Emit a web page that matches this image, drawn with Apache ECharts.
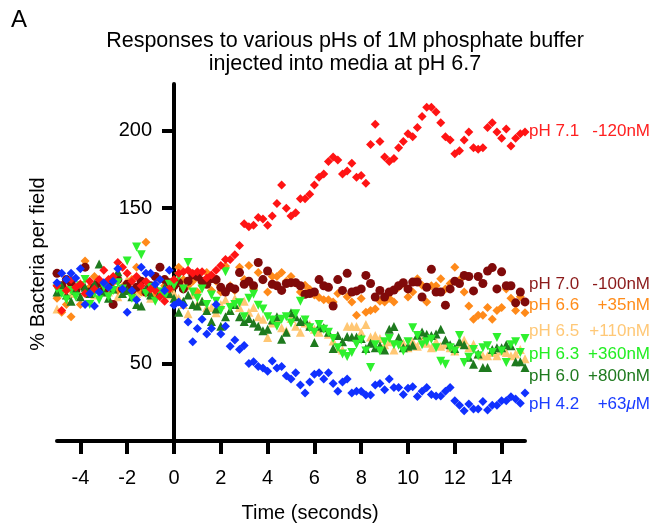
<!DOCTYPE html>
<html>
<head>
<meta charset="utf-8">
<script src="https://cdn.jsdelivr.net/npm/echarts@6/dist/echarts.min.js"></script>
<style>html,body{margin:0;padding:0;background:#fff}#c{width:653px;height:527px}</style>
</head>
<body>
<div id="c"></div>
<script>
// Time points (seconds)
var times = [-5,-4.8,-4.6,-4.4,-4.2,-4,-3.8,-3.6,-3.4,-3.2,-3,-2.8,-2.6,-2.4,-2.2,-2,-1.8,-1.6,-1.4,-1.2,-1,-0.8,-0.6,-0.4,-0.2,
  0,0.2,0.4,0.6,0.8,1,1.2,1.4,1.6,1.8,2,2.2,2.4,2.6,2.8,3,3.2,3.4,3.6,3.8,4,4.2,4.4,4.6,4.8,5,5.2,5.4,5.6,5.8,
  6,6.2,6.4,6.6,6.8,7,7.2,7.4,7.6,7.8,8,8.2,8.4,8.6,8.8,9,9.2,9.4,9.6,9.8,10,10.2,10.4,10.6,10.8,11,11.2,11.4,11.6,11.8,
  12,12.2,12.4,12.6,12.8,13,13.2,13.4,13.6,13.8,14,14.2,14.4,14.6,14.8,15];

var pH71 = [100,84,97,104,99,101,95,103,98,104,110,104,106,115,112,108,103,106,100,103,98,97,93,90,98,
  104,108,109,110,108,109,109,105,107,110,
  113,117,117,120,126,140,138,139,144,143,
  139,145,153,165,150,145,147,156,156,159,
  165,170,172,180,183,181,172,174,179,170,
  171,166,191,204,193,183,180,182,189,193,
  198,196,202,209,215,215,212,205,196,194,
  185,187,194,199,189,188,189,202,205,199,
  195,201,190,195,198,199];

var pH70 = [108,100,104,102,97,100,112,96,99,102,97,100,88,104,98,101,97,99,103,96,100,106,112,104,102,
  100,102,98,103,107,106,103,101,104.6,104,
  99,96,99,98,108.5,101,103,100,115,104,
  109.5,101,100,97,101.5,102,102,100,94.5,95,
  96,104,100,99,87,104,97,108,96,96.7,
  98,106.7,101.5,92.8,97,92.8,96,97.3,100,102,
  98,102.4,102.4,92.8,99,110.6,96,96,87.5,98,
  103,101.5,106.7,106,96.7,106,101.5,109.5,111.7,98,
  109,100,100,89,96,89.6];

var pH66 = [92,83,88,80,95,88,116,99,106,98,100,95,102,97,99,101,104,112,96,128,99,94,104,100,97,
  100,112,104,100,103,96,100,108.5,97,103,
  96,112.7,100,97,112,104,113,98,108.5,103.7,
  96,106,106,108.5,103,106,102,96,100.3,97.7,
  94,92.4,91,91,89.6,95,96.7,93,89.6,81,
  91.8,83,84,85,90,89.6,92,89.6,99,101.6,
  92.8,96,104.6,100.3,89.6,100,100,104.6,98,101.5,
  112,103.7,96,87,78.5,81,81,86,78.5,84,
  86,98,92,84,93,82.7];

var pH65 = [85,97,100,95,98,102,96,100,94,99,101,96,98,93,100,104,97,95,99,96,92,98,95,100,94,
  95,92,88,82,94.5,88,90,86,86,82.7,
  88,91,84,91.8,86,90,83,86,80,78.5,
  66.7,76,79.5,73,71,79,74,70,76,75,
  72,70,73,68.8,64.5,59.6,58.7,74,74,73.7,
  70,75,67,68,66,62,64,58.7,66,63,
  60,64,61,65,63,60,64,61,62.4,60,
  58,63,65,60,62.4,56,55,55,57,55,
  58,57,55,56,59,53];

var pH63 = [98,95,91,97,93,100,104,88,95,91,99,93,97,102,98,116,92,125,120,95,99,90,96,93,101,
  100,106,98,115,96,92,98,88,94,90,
  84,109,86,88,89,80,92,94.5,87.5,85,
  80,78,74,78.5,80,76,82,90,78,73,
  70,75,72,70,66,60,56,54.5,57,62.4,
  65,58,47.4,62,58,64,66,62,61.7,58,
  64,73,68,62,64,65.6,60,51.4,49.5,60,
  58,68,50.6,54,59,55,60,61.3,57,66.7,
  58,50.6,62,64,57,66];

var pH60 = [96,100,94,90,97,93,99,95,101,114,96,92,98,109,95,97,93,88,87,98,94,100,96,99,95,
  92,83,90,94,88,87,90,84,77,85,
  74,80,84,88,80,77,79,76,74,71,
  72,78,80,65.6,70,82.7,80,77,78,74,
  63.5,74,73,70,59.6,68,64,67.3,67,67,
  66,59.6,63,60,61.3,58.7,72,73.7,66.7,60,
  61,61.7,68.2,70.3,68.8,68,69,72,65,62,
  59.6,64,62,54,49.5,56,47.4,47.4,59,60,
  60,62,61.3,51,51,47.4];

var pH42 = [102,108,104,108,105,111,88,95,87,96,102,99,103,111,98,83,97,91,112,108,108,101,104,97,110,
  87.5,89.6,87.5,76.7,64,72.5,78.5,69,72.5,88,
  69,74,61,65,59,61.5,50,51,48,47,
  45,51.5,47,48,42,40,44,36,31,38,
  43,44,40,44,37,32,38,40,31,32,
  32,29.6,29.6,36,37,33,40,34.5,34.5,30,
  34,35,28.7,32,34.5,30,29,29,32,34.5,
  26,23,19.5,23.8,20.6,20.6,25.5,20,23,23,
  26,26,28.5,27,24.4,31];

var xTicks = [-4,-2,0,2,4,6,8,10,12,14];
var yTicks = [50,150,200];

var FONT = "'Liberation Sans', Arial, Helvetica, sans-serif";

function pts(vals){ return times.map(function(t,i){ return [t, vals[i]]; }); }

var seriesDefs = [
  {name:'pH 6.5', data:pH65, color:'#FFC774', symbol:'triangle', size:9, rot:0},
  {name:'pH 6.6', data:pH66, color:'#FF8A1A', symbol:'diamond', size:9, rot:0},
  {name:'pH 7.0', data:pH70, color:'#800A0A', symbol:'circle', size:9, rot:0},
  {name:'pH 6.0', data:pH60, color:'#1E7A1E', symbol:'triangle', size:9, rot:0},
  {name:'pH 6.3', data:pH63, color:'#2EF02E', symbol:'triangle', size:9, rot:180},
  {name:'pH 7.1', data:pH71, color:'#FF1414', symbol:'diamond', size:9, rot:0},
  {name:'pH 4.2', data:pH42, color:'#1030FF', symbol:'diamond', size:9, rot:0}
];

var labels = [
  {a:'pH 7.1', b:'-120nM', y:131, c:'#FF2020'},
  {a:'pH 7.0', b:'-100nM', y:284, c:'#8B1A1A'},
  {a:'pH 6.6', b:'+35nM', y:305, c:'#FF8C1A'},
  {a:'pH 6.5', b:'+110nM', y:331, c:'#FFC877'},
  {a:'pH 6.3', b:'+360nM', y:354, c:'#22EE22'},
  {a:'pH 6.0', b:'+800nM', y:376, c:'#1E7A1E'},
  {a:'pH 4.2', b:'+63{i|μ}M', y:404, c:'#1A3CFF'}
];

var graphics = [
  {type:'text', x:11, y:20, style:{text:'A', fill:'#000', font:'24px ' + FONT, textVerticalAlign:'middle'}},
  {type:'text', x:345, y:41, style:{text:'Responses to various pHs of 1M phosphate buffer', fill:'#000', font:'21.5px ' + FONT, textAlign:'center', textVerticalAlign:'middle'}},
  {type:'text', x:345, y:64, style:{text:'injected into media at pH 6.7', fill:'#000', font:'21.5px ' + FONT, textAlign:'center', textVerticalAlign:'middle'}},
  {type:'text', x:38, y:264, rotation:Math.PI/2, style:{text:'% Bacteria per field', fill:'#000', font:'20px ' + FONT, textAlign:'center', textVerticalAlign:'middle'}}
];
labels.forEach(function(l){
  graphics.push({type:'text', x:529, y:l.y, style:{text:l.a, fill:l.c, font:'17px ' + FONT, textVerticalAlign:'middle'}});
  graphics.push({type:'text', x:650, y:l.y, style:{text:l.b, fill:l.c, font:'17px ' + FONT, textAlign:'right', textVerticalAlign:'middle',
    rich:{i:{fontStyle:'italic', fontSize:17, fontFamily:FONT, fill:l.c}}}});
});

var GRID_LEFT = 57;
var chart = echarts.init(document.getElementById('c'), null, {renderer:'canvas'});
var option = {
  animation:false,
  backgroundColor:'#fff',
  grid:{left:GRID_LEFT, right:128, top:84, bottom:86, containLabel:false, outerBoundsMode:'none'},
  xAxis:{
    type:'value', min:-5, max:15,
    name:'Time (seconds)', nameLocation:'middle', nameGap:62,
    nameTextStyle:{fontSize:20, fontFamily:FONT, color:'#000', padding:[0,0,0,38]},
    axisLine:{show:true, onZero:false, lineStyle:{color:'#000', width:4}},
    axisTick:{show:true, length:13, customValues:xTicks, lineStyle:{color:'#000', width:4}},
    axisLabel:{customValues:xTicks, fontSize:20, fontFamily:FONT, color:'#000', margin:27},
    splitLine:{show:false}
  },
  yAxis:{
    type:'value', min:0, max:230, position:'left', offset:0,
    axisLine:{show:true, onZero:false, lineStyle:{color:'#000', width:4}},
    axisTick:{show:true, length:12, customValues:yTicks, lineStyle:{color:'#000', width:4}},
    axisLabel:{customValues:yTicks, fontSize:20, fontFamily:FONT, color:'#000', margin:22},
    splitLine:{show:false}
  },
  series: seriesDefs.map(function(s){
    return {type:'scatter', name:s.name, data:pts(s.data), symbol:s.symbol, symbolSize:s.size, symbolRotate:s.rot,
      itemStyle:{color:s.color, opacity:1}, silent:true};
  }),
  graphic: graphics
};
chart.setOption(option);
// place the y axis at x = 0 of the time axis
var zeroPx = chart.convertToPixel({xAxisIndex:0}, 0);
chart.setOption({yAxis:{offset:-(zeroPx - GRID_LEFT)}});
</script>
</body>
</html>
